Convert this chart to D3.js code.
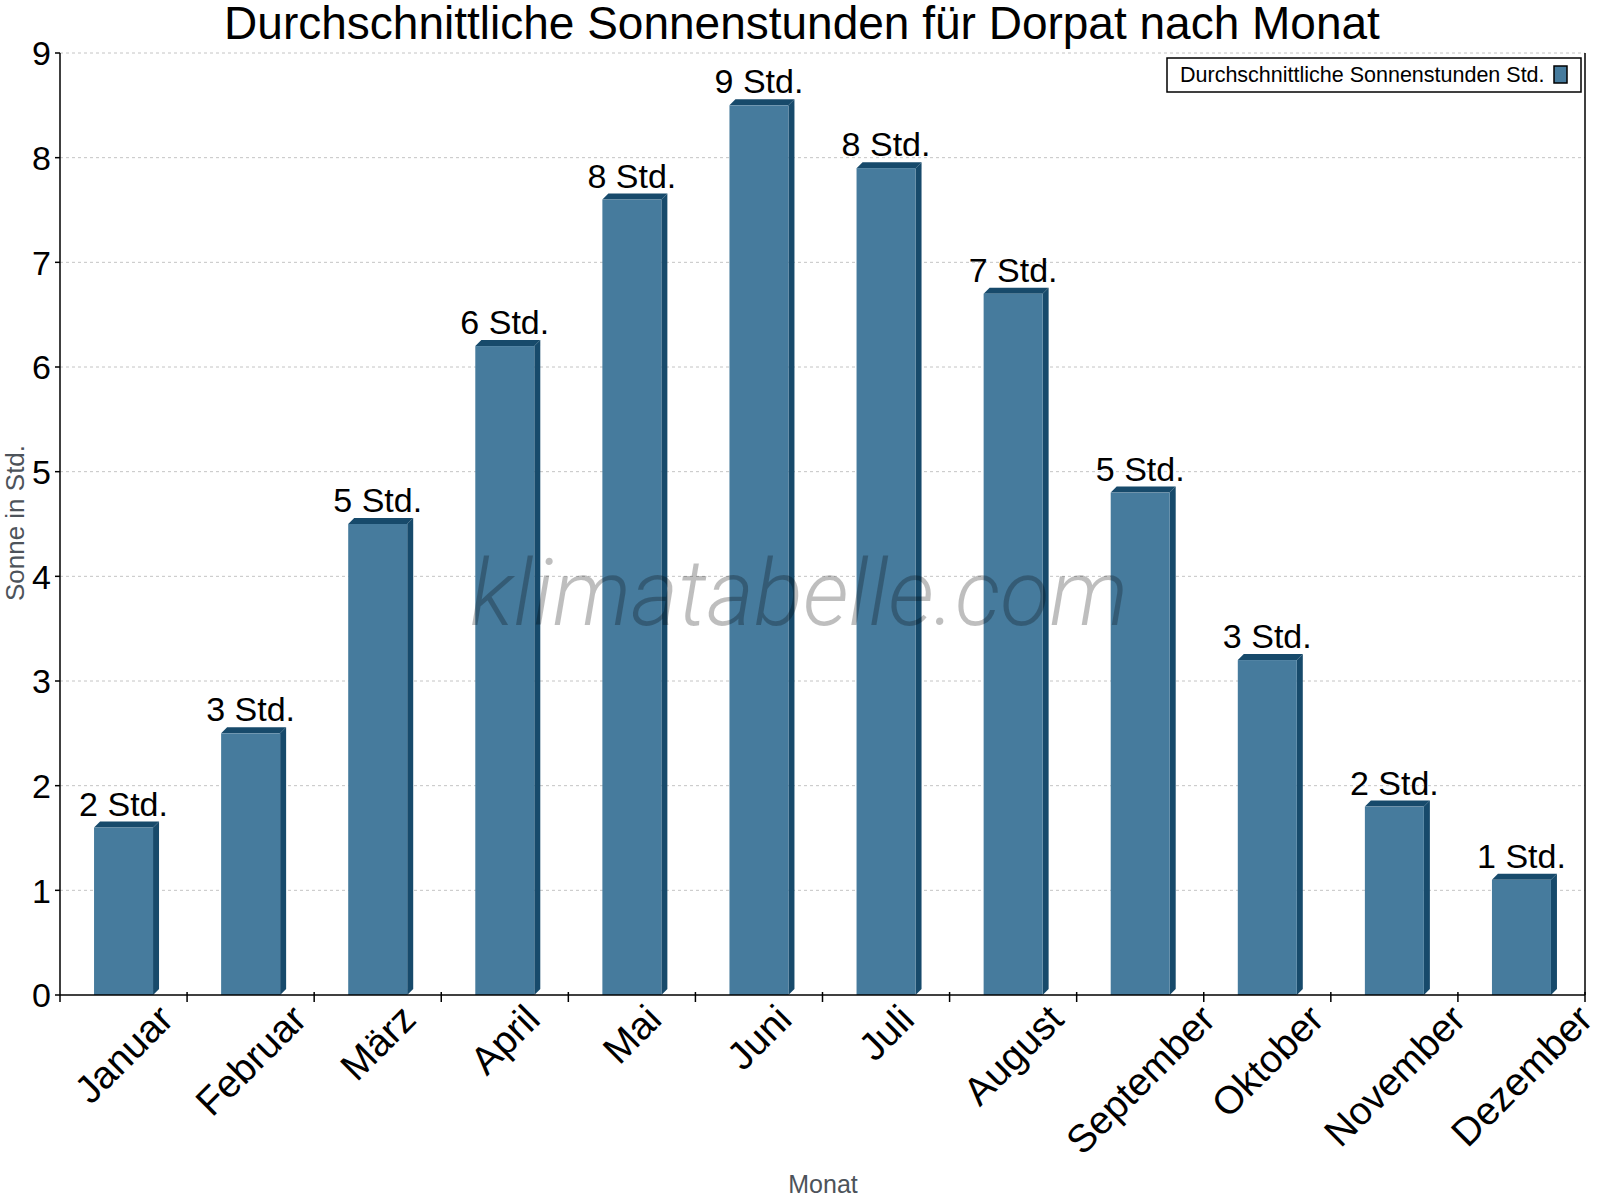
<!DOCTYPE html>
<html>
<head>
<meta charset="utf-8">
<script src="https://cdn.jsdelivr.net/npm/d3@7"></script>
<style>
  body { margin: 0; background: #fff; }
  svg { display: block; font-family: "Liberation Sans", Arial, sans-serif; }
</style>
</head>
<body>
<svg id="chart"></svg>
<script>
const WIDTH = 1600;
const HEIGHT = 1200;

// data
const months = ["Januar", "Februar", "März", "April", "Mai", "Juni", "Juli",
                "August", "September", "Oktober", "November", "Dezember"];
const sunHours = [1.6, 2.5, 4.5, 6.2, 7.6, 8.5, 7.9, 6.7, 4.8, 3.2, 1.8, 1.1];
const yTicks = [0, 1, 2, 3, 4, 5, 6, 7, 8, 9];

const plotLeft = 60, plotRight = 1585, plotTop = 53, plotBottom = 995;
const barW = 59, depth = 6;

let svg = d3.select('#chart')
    .attr('width', WIDTH)
    .attr('height', HEIGHT);

const x = d3.scaleBand().domain(months).range([plotLeft, plotRight]).padding(0);
const y = d3.scaleLinear().domain([0, 9]).range([plotBottom, plotTop]);

// grid
svg.append('g')
    .selectAll('line')
    .data(yTicks.slice(1))
    .enter()
    .append('line')
    .attr('x1', plotLeft).attr('x2', plotRight)
    .attr('y1', d => y(d)).attr('y2', d => y(d))
    .style('stroke', '#c4c4c4')
    .style('stroke-width', 1)
    .style('stroke-dasharray', '3,3');

// bars with a small 3d offset
let bars = svg.append('g').selectAll('g')
    .data(months)
    .enter()
    .append('g');

bars.each(function(m, i){
    const g = d3.select(this);
    const x0 = x(m) + (x.bandwidth() - barW) / 2;
    const x1 = x0 + barW;
    const yt = y(sunHours[i]);
    // side
    g.append('path')
        .attr('d', `M${x1},${yt} L${x1 + depth},${yt - depth} L${x1 + depth},${plotBottom - depth} L${x1},${plotBottom} Z`)
        .style('fill', '#174a6b');
    // top
    g.append('path')
        .attr('d', `M${x0},${yt} L${x0 + depth},${yt - depth} L${x1 + depth},${yt - depth} L${x1},${yt} Z`)
        .style('fill', '#174a6b');
    // front
    g.append('rect')
        .attr('x', x0).attr('y', yt)
        .attr('width', barW).attr('height', plotBottom - yt)
        .style('fill', '#467b9d');
    // value label
    g.append('text')
        .attr('x', x(m) + x.bandwidth() / 2)
        .attr('y', yt - depth - 6)
        .attr('text-anchor', 'middle')
        .style('font-size', '34px')
        .style('fill', '#000')
        .text(Math.round(sunHours[i]) + ' Std.');
});

// watermark
svg.append('text')
    .attr('x', 470).attr('y', 625)
    .attr('textLength', 658)
    .attr('lengthAdjust', 'spacingAndGlyphs')
    .style('font-family', 'Roboto, sans-serif')
    .style('font-weight', 300)
    .style('font-style', 'italic')
    .style('font-size', '92px')
    .style('fill', '#000')
    .style('opacity', 0.25)
    .text('klimatabelle.com');

// axes
svg.append('line')
    .attr('x1', plotLeft).attr('x2', plotLeft).attr('y1', plotTop).attr('y2', plotBottom)
    .style('stroke', '#000').style('stroke-width', 1.5);
svg.append('line')
    .attr('x1', plotRight).attr('x2', plotRight).attr('y1', plotTop).attr('y2', plotBottom)
    .style('stroke', '#000').style('stroke-width', 1.5);
svg.append('line')
    .attr('x1', plotLeft).attr('x2', plotRight).attr('y1', plotBottom).attr('y2', plotBottom)
    .style('stroke', '#000').style('stroke-width', 1.5);

// y ticks
let yg = svg.append('g');
yg.selectAll('line')
    .data(yTicks).enter().append('line')
    .attr('x1', plotLeft - 5).attr('x2', plotLeft)
    .attr('y1', d => y(d)).attr('y2', d => y(d))
    .style('stroke', '#000').style('stroke-width', 1.5);
yg.selectAll('text')
    .data(yTicks).enter().append('text')
    .attr('x', plotLeft - 9)
    .attr('y', d => y(d))
    .attr('dy', '0.36em')
    .attr('text-anchor', 'end')
    .style('font-size', '34px')
    .text(d => d);

// x ticks on band edges
const edges = months.map(m => x(m)).concat([plotRight]);
svg.append('g').selectAll('line')
    .data(edges).enter().append('line')
    .attr('x1', d => d).attr('x2', d => d)
    .attr('y1', (d, i) => i === 0 ? plotBottom : plotBottom - 3)
    .attr('y2', plotBottom + 7)
    .style('stroke', '#000').style('stroke-width', 1.5);

// x labels, rotated, tops aligned
let xl = svg.append('g');
months.forEach(m => {
    const t = xl.append('text')
        .attr('text-anchor', 'middle')
        .attr('dy', '0.35em')
        .style('font-size', '39px')
        .text(m);
    const w = t.node().getComputedTextLength();
    const cx = x(m) + x.bandwidth() / 2;
    const cy = 1002 + 0.707 * (w + 28) / 2;
    t.attr('transform', `translate(${cx},${cy}) rotate(-45)`);
});

// title
svg.append('text')
    .attr('x', 802).attr('y', 39)
    .attr('text-anchor', 'middle')
    .style('font-size', '46px')
    .text('Durchschnittliche Sonnenstunden für Dorpat nach Monat');

// axis titles
svg.append('text')
    .attr('transform', 'translate(24,523) rotate(-90)')
    .attr('text-anchor', 'middle')
    .style('font-size', '26px')
    .style('fill', '#4d535a')
    .text('Sonne in Std.');
svg.append('text')
    .attr('x', 823).attr('y', 1193)
    .attr('text-anchor', 'middle')
    .style('font-size', '25px')
    .style('fill', '#4d535a')
    .text('Monat');

// legend
let legend = svg.append('g');
legend.append('rect')
    .attr('x', 1167).attr('y', 58).attr('width', 414).attr('height', 34)
    .style('fill', '#fff').style('stroke', '#000').style('stroke-width', 1.5);
legend.append('text')
    .attr('x', 1180).attr('y', 82)
    .style('font-size', '21.5px')
    .text('Durchschnittliche Sonnenstunden Std.');
legend.append('rect')
    .attr('x', 1554).attr('y', 66).attr('width', 13).attr('height', 17)
    .style('fill', '#467b9d').style('stroke', '#000').style('stroke-width', 1.5);
</script>
</body>
</html>
